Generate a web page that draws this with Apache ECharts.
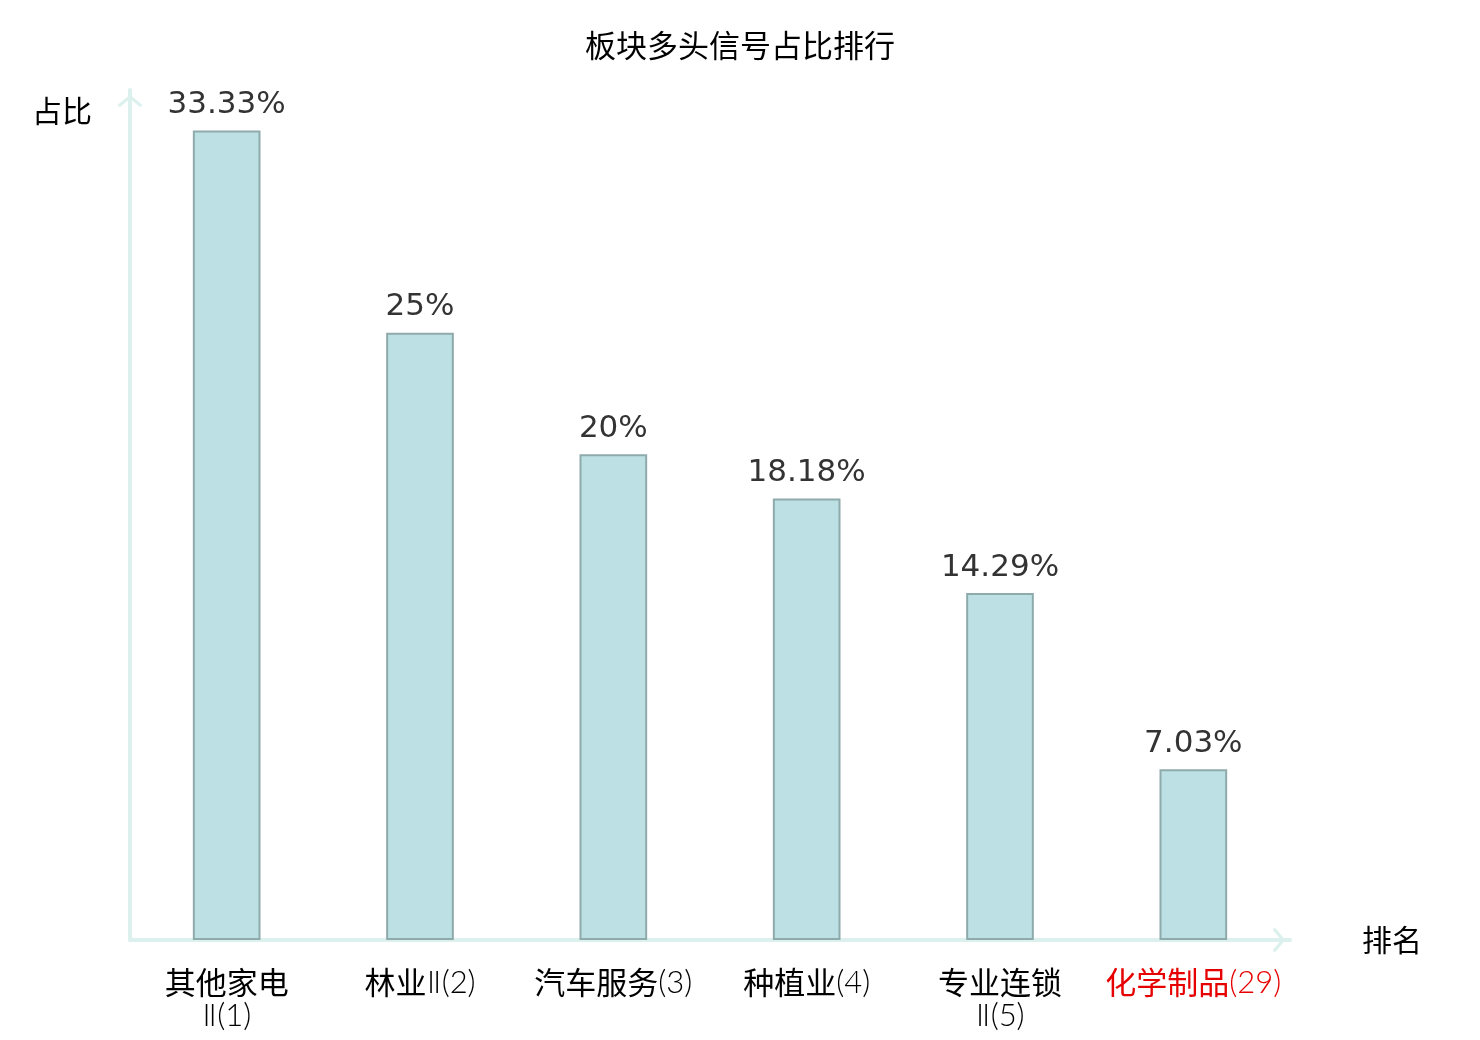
<!DOCTYPE html>
<html>
<head>
<meta charset="utf-8">
<script src="https://cdn.jsdelivr.net/npm/echarts@6/dist/echarts.min.js"></script>
<style>
html, body { margin: 0; padding: 0; background: #fff; }
#container { width: 1480px; height: 1040px; }
</style>
</head>
<body>
<div id="container"></div>
<script>
var sectorNames = ['其他家电Ⅱ', '林业Ⅱ', '汽车服务', '种植业', '专业连锁Ⅱ', '化学制品'];
var sectorRanks = [1, 2, 3, 4, 5, 29];
var ratioValues = [33.33, 25, 20, 18.18, 14.29, 7.03];
var highlightIndex = 5;

var dom = document.getElementById('container');
var myChart = echarts.init(dom);

// chevron pointing up, rotated by the axis builder
var chevron = 'path://M0,0 L12,10 L9.8,12.2 L0,4 L-9.8,12.2 L-12,10 Z';

// CJK part and latin part get different fonts
function splitLabel(value, index) {
    var cjk = value.replace(/Ⅱ/g, '');
    var rest = value.slice(cjk.length) + '(' + sectorRanks[index] + ')';
    var sep = value.length > 4 ? '\n' : '';
    return '{c|' + cjk + '}' + sep + '{n|' + rest + '}';
}

var option = {
    animation: false,
    textStyle: {
        fontFamily: 'DejaVu Sans, Noto Sans CJK SC, sans-serif'
    },
    title: {
        text: '板块多头信号占比排行',
        left: 'center',
        top: 25,
        textStyle: {
            fontSize: 31,
            fontWeight: 'normal',
            color: '#000',
            fontFamily: 'Noto Sans CJK SC'
        }
    },
    grid: {
        left: 130,
        right: 190,
        top: 90,
        bottom: 100
    },
    xAxis: {
        type: 'category',
        data: sectorNames,
        name: '排名',
        nameGap: 72,
        nameTextStyle: {
            fontSize: 30,
            color: '#000',
            fontFamily: 'Noto Sans CJK SC'
        },
        axisLine: {
            symbol: ['none', chevron],
            symbolSize: [25, 22],
            symbolOffset: [0, -11],
            lineStyle: { color: '#dcf1ee', width: 4 }
        },
        axisTick: { show: false },
        axisLabel: {
            interval: 0,
            fontSize: 31,
            lineHeight: 33,
            margin: 26,
            color: function (value, index) {
                return index == highlightIndex ? '#e60000' : '#000';
            },
            formatter: splitLabel,
            rich: {
                c: {
                    fontSize: 31,
                    lineHeight: 33,
                    fontFamily: 'Noto Sans CJK SC'
                },
                n: {
                    fontSize: 31,
                    lineHeight: 33,
                    fontWeight: 300,
                    fontFamily: 'Lato, DejaVu Sans, Noto Sans CJK SC'
                }
            }
        }
    },
    yAxis: {
        type: 'value',
        min: 0,
        max: 35,
        name: '占比',
        nameGap: -6,
        nameTextStyle: {
            fontSize: 30,
            color: '#000',
            fontFamily: 'Noto Sans CJK SC',
            align: 'right',
            verticalAlign: 'top',
            padding: [0, 38, 0, 0]
        },
        axisLine: {
            show: true,
            symbol: ['none', chevron],
            symbolSize: [25, 22],
            symbolOffset: [0, -11],
            lineStyle: { color: '#dcf1ee', width: 4 }
        },
        axisTick: { show: false },
        axisLabel: { show: false },
        splitLine: { show: false }
    },
    series: [
        {
            name: '占比',
            type: 'bar',
            data: ratioValues,
            barWidth: '35%',
            itemStyle: {
                color: '#bce0e3',
                borderColor: '#8eaaab',
                borderWidth: 2
            },
            label: {
                show: true,
                position: 'top',
                distance: 10,
                fontSize: 31,
                color: '#333',
                formatter: function (params) {
                    return params.value + '%';
                }
            }
        }
    ]
};
myChart.setOption(option);
</script>
</body>
</html>
